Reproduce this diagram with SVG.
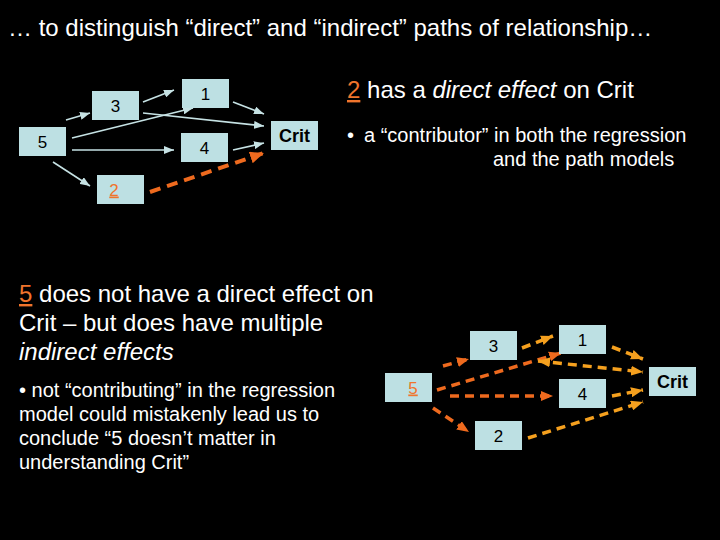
<svg xmlns="http://www.w3.org/2000/svg" width="720" height="540" viewBox="0 0 720 540">
<style>
  text { font-family: "Liberation Sans", Arial, sans-serif; fill: #ffffff; }
  .box { fill: #bde0e3; }
  .lbl { fill: #000000; font-size: 17px; text-anchor: middle; }
  .crit { font-weight: bold; font-size: 18px; }
  .hi { fill: #f0742c; text-decoration: underline; }
  .thin { stroke: #c6e2e4; stroke-width: 1.6; fill: none; marker-end: url(#ah-light); }
  .od { stroke: #ee6a1e; stroke-width: 4; stroke-dasharray: 11 7; fill: none; marker-end: url(#ah-orange-big); }
  .o { stroke: #ee6a1e; stroke-width: 3.5; stroke-dasharray: 9 6; fill: none; marker-end: url(#ah-orange); }
  .a { stroke: #f5a01e; stroke-width: 3.5; stroke-dasharray: 9 6; fill: none; marker-end: url(#ah-amber); }
  .big { font-size: 24px; }
  .mid { font-size: 20px; }
</style>
<defs>
  <marker id="ah-light" markerUnits="userSpaceOnUse" markerWidth="10" markerHeight="8" refX="10" refY="4" orient="auto">
    <path d="M0,0 L10,4 L0,8 z" fill="#c6e2e4"/>
  </marker>
  <marker id="ah-orange-big" markerUnits="userSpaceOnUse" markerWidth="14" markerHeight="12" refX="14" refY="6" orient="auto">
    <path d="M0,0 L14,6 L0,12 z" fill="#ee6a1e"/>
  </marker>
  <marker id="ah-orange" markerUnits="userSpaceOnUse" markerWidth="12" markerHeight="10" refX="12" refY="5" orient="auto">
    <path d="M0,0 L12,5 L0,10 z" fill="#ee6a1e"/>
  </marker>
  <marker id="ah-amber" markerUnits="userSpaceOnUse" markerWidth="12" markerHeight="10" refX="12" refY="5" orient="auto">
    <path d="M0,0 L12,5 L0,10 z" fill="#f5a01e"/>
  </marker>
  <marker id="ah-amber-start" markerUnits="userSpaceOnUse" markerWidth="12" markerHeight="10" refX="0" refY="5" orient="auto">
    <path d="M12,0 L0,5 L12,10 z" fill="#f5a01e"/>
  </marker>
</defs>
<rect width="720" height="540" fill="#000000"/>

<text id="title" x="8" y="36" class="big">… to distinguish “direct” and “indirect” paths of relationship…</text>

<!-- top diagram connectors -->
<g id="connectors-top">
  <line class="thin" x1="66" y1="120" x2="90" y2="113"/>
  <line class="thin" x1="143" y1="102" x2="174" y2="90"/>
  <line class="thin" x1="143" y1="113" x2="264" y2="126"/>
  <line class="thin" x1="72" y1="138" x2="193" y2="108"/>
  <line class="thin" x1="72" y1="150" x2="174" y2="150"/>
  <line class="thin" x1="233" y1="102" x2="264" y2="114"/>
  <line class="thin" x1="233" y1="150" x2="264" y2="143"/>
  <line class="thin" x1="53" y1="162" x2="90" y2="186"/>
  <line class="od" x1="150" y1="192" x2="264" y2="153"/>
</g>

<!-- top diagram nodes -->
<g id="t3"><rect class="box" x="92" y="91" width="47" height="29"/><text class="lbl" x="115.5" y="111.5">3</text></g>
<g id="t1"><rect class="box" x="182" y="79" width="47" height="29"/><text class="lbl" x="205.5" y="99.5">1</text></g>
<g id="t5"><rect class="box" x="19" y="127" width="47" height="29"/><text class="lbl" x="42.5" y="147.5">5</text></g>
<g id="t4"><rect class="box" x="181" y="133" width="47" height="29"/><text class="lbl" x="204.5" y="153.5">4</text></g>
<g id="tcrit"><rect class="box" x="271" y="121" width="47" height="29"/><text class="lbl crit" x="294.5" y="141.5">Crit</text></g>
<g id="t2"><rect class="box" x="97" y="175" width="47" height="29"/><text class="lbl hi" x="114" y="195.5">2</text></g>

<!-- right text -->
<g id="text-right">
  <text x="347" y="98" class="big"><tspan class="hi">2</tspan> has a <tspan font-style="italic">direct effect</tspan> on Crit</text>
  <text x="347" y="142" class="mid">•</text>
  <text x="364" y="142" class="mid">a “contributor” in both the regression</text>
  <text x="493" y="166" class="mid">and the path models</text>
</g>

<!-- left text -->
<g id="text-left">
  <text x="19" y="302" class="big"><tspan class="hi">5</tspan> does not have a direct effect on</text>
  <text x="19" y="331" class="big">Crit – but does have multiple</text>
  <text x="19" y="360" class="big" font-style="italic">indirect effects</text>
  <text x="19" y="397" class="mid">• not “contributing” in the regression</text>
  <text x="19" y="421" class="mid">model could mistakenly lead us to</text>
  <text x="19" y="445" class="mid">conclude “5 doesn’t matter in</text>
  <text x="19" y="469" class="mid">understanding Crit”</text>
</g>

<!-- bottom diagram connectors -->
<g id="connectors-bottom">
  <line class="o" x1="443" y1="366" x2="469" y2="359"/>
  <line class="a" x1="522" y1="348" x2="553" y2="336"/>
  <line class="o" x1="437" y1="390" x2="561" y2="353"/>
  <line class="a" x1="538" y1="361" x2="643" y2="372" marker-start="url(#ah-amber-start)"/>
  <line class="o" x1="450" y1="396" x2="553" y2="396"/>
  <line class="o" x1="433" y1="408" x2="469" y2="432"/>
  <line class="a" x1="612" y1="347" x2="643" y2="359"/>
  <line class="a" x1="612" y1="396" x2="643" y2="390"/>
  <line class="a" x1="528" y1="438" x2="643" y2="402"/>
</g>

<!-- bottom diagram nodes -->
<g id="b3"><rect class="box" x="470" y="331" width="47" height="29"/><text class="lbl" x="493.5" y="351.5">3</text></g>
<g id="b1"><rect class="box" x="559" y="325" width="47" height="29"/><text class="lbl" x="582.5" y="345.5">1</text></g>
<g id="b5"><rect class="box" x="385" y="373" width="47" height="29"/><text class="lbl hi" x="413" y="393.5">5</text></g>
<g id="b4"><rect class="box" x="559" y="379" width="47" height="29"/><text class="lbl" x="582.5" y="399.5">4</text></g>
<g id="bcrit"><rect class="box" x="649" y="367" width="47" height="29"/><text class="lbl crit" x="672.5" y="387.5">Crit</text></g>
<g id="b2"><rect class="box" x="475" y="421" width="47" height="29"/><text class="lbl" x="498.5" y="441.5">2</text></g>
</svg>
